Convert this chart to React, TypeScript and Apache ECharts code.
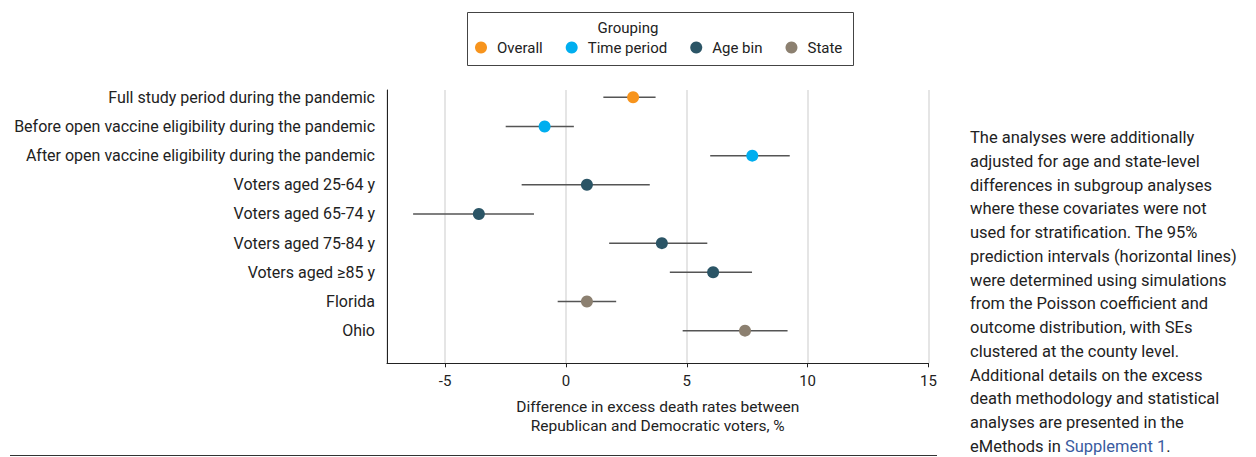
import React, { useEffect, useRef } from "react";
import * as echarts from "echarts";

const categories = [
  "Full study period during the pandemic",
  "Before open vaccine eligibility during the pandemic",
  "After open vaccine eligibility during the pandemic",
  "Voters aged 25-64 y",
  "Voters aged 65-74 y",
  "Voters aged 75-84 y",
  "Voters aged \u226585 y",
  "Florida",
  "Ohio",
];
const estimates = [2.78, -0.88, 7.71, 0.87, -3.6, 3.97, 6.09, 0.87, 7.41];
const lower = [1.55, -2.49, 5.97, -1.83, -6.32, 1.79, 4.3, -0.34, 4.83];
const upper = [3.71, 0.33, 9.26, 3.47, -1.32, 5.85, 7.7, 2.08, 9.17];
const groups = [
  "Overall",
  "Time period",
  "Time period",
  "Age bin",
  "Age bin",
  "Age bin",
  "Age bin",
  "State",
  "State",
];
const groupNames = ["Overall", "Time period", "Age bin", "State"];
const groupColors = ["#F7941D", "#00AEEF", "#2B5566", "#8C8070"];

const noteLines = [
  "The analyses were additionally",
  "adjusted for age and state-level",
  "differences in subgroup analyses",
  "where these covariates were not",
  "used for stratification. The 95%",
  "prediction intervals (horizontal lines)",
  "were determined using simulations",
  "from the Poisson coefficient and",
  "outcome distribution, with SEs",
  "clustered at the county level.",
  "Additional details on the excess",
  "death methodology and statistical",
  "analyses are presented in the",
];
const noteLastPrefix = "eMethods in ";
const noteLink = "Supplement 1";

const FONT = "Roboto";

export default function App() {
  const ref = useRef<HTMLDivElement>(null);
  useEffect(() => {
    if (!ref.current) return;
    const chart = echarts.init(ref.current, null, { renderer: "svg" });

    const ciData = categories.map((_, i) => [lower[i], upper[i], i]);
    const scatterSeries = groupNames.map((g, gi) => ({
      name: g,
      type: "scatter",
      symbol: "circle",
      symbolSize: 12,
      z: 5,
      itemStyle: { color: groupColors[gi], opacity: 1 },
      data: categories
        .map((_, i) => (groups[i] === g ? [estimates[i], i] : null))
        .filter((d) => d !== null),
    }));

    const noteGraphics: any[] = noteLines.map((t, i) => ({
      type: "text",
      left: 970,
      top: 129 + i * 23.75,
      style: { text: t, font: `16.5px ${FONT}`, fill: "#222", lineHeight: 17 },
    }));
    noteGraphics.push({
      type: "text",
      left: 970,
      top: 129 + 13 * 23.75,
      style: {
        text: `{a|${noteLastPrefix}}{b|${noteLink}}{a|.}`,
        rich: {
          a: { font: `16.5px ${FONT}`, fill: "#222", lineHeight: 17 },
          b: { font: `16.5px ${FONT}`, fill: "#3A5BA0", lineHeight: 17 },
        },
      },
    });

    chart.setOption({
      animation: false,
      textStyle: { fontFamily: FONT },
      grid: { left: 387, right: 327.5, top: 90, bottom: 93.7, containLabel: false },
      legend: {
        data: groupNames,
        left: 470,
        top: 35,
        icon: "circle",
        itemWidth: 12,
        itemHeight: 12,
        itemGap: 23,
        textStyle: { fontSize: 15, color: "#222", fontFamily: FONT, padding: [0, 0, 0, 5] },
      },
      xAxis: {
        type: "value",
        min: -7.4,
        max: 15,
        splitNumber: 4,
        axisLine: { show: true, onZero: false, lineStyle: { color: "#222", width: 1 } },
        axisTick: { show: true, length: 4, lineStyle: { color: "#222" } },
        axisLabel: {
          showMinLabel: false,
          fontSize: 15,
          color: "#222",
          margin: 10,
          formatter: (v: number) => (v % 5 === 0 ? String(v) : ""),
        },
        splitLine: { show: true, lineStyle: { color: "#dcdcdc", width: 1.5 } },
        name: "Difference in excess death rates between\nRepublican and Democratic voters, %",
        nameLocation: "middle",
        nameGap: 34,
        nameTextStyle: { fontSize: 15.5, color: "#222", lineHeight: 19, fontFamily: FONT },
      },
      yAxis: {
        type: "value",
        inverse: true,
        min: -0.25,
        max: 9.12,
        axisLine: { show: true, onZero: false, lineStyle: { color: "#222", width: 1 } },
        axisTick: { show: false },
        splitLine: { show: false },
        axisLabel: {
          customValues: categories.map((_, i) => i),
          formatter: (v: number) => categories[Math.round(v)] ?? "",
          fontSize: 16,
          color: "#222",
          margin: 12,
        },
      },
      graphic: [
        {
          type: "rect",
          left: 465,
          top: 10,
          shape: { width: 386, height: 53 },
          style: { fill: "none", stroke: "#444", lineWidth: 1 },
          silent: true,
        },
        {
          type: "text",
          left: "center",
          top: 20,
          style: { text: "Grouping", font: `15px ${FONT}`, fill: "#222" },
        },
        {
          type: "line",
          shape: { x1: 10, y1: 455.5, x2: 937, y2: 455.5 },
          style: { stroke: "#333", lineWidth: 1 },
        },
        ...noteGraphics,
      ],
      series: [
        {
          name: "CI",
          type: "custom",
          z: 2,
          encode: { x: [0, 1], y: 2 },
          renderItem: (params: any, api: any) => {
            const y = api.value(2);
            const p1 = api.coord([api.value(0), y]);
            const p2 = api.coord([api.value(1), y]);
            return {
              type: "line",
              shape: { x1: p1[0], y1: p1[1], x2: p2[0], y2: p2[1] },
              style: { stroke: "#555", lineWidth: 1.5 },
            };
          },
          data: ciData,
        },
        ...scatterSeries,
      ],
    });
    return () => chart.dispose();
  }, []);
  return (
    <div
      ref={ref}
      style={{ position: "absolute", left: 0, top: 0, width: 1256, height: 457 }}
    />
  );
}
